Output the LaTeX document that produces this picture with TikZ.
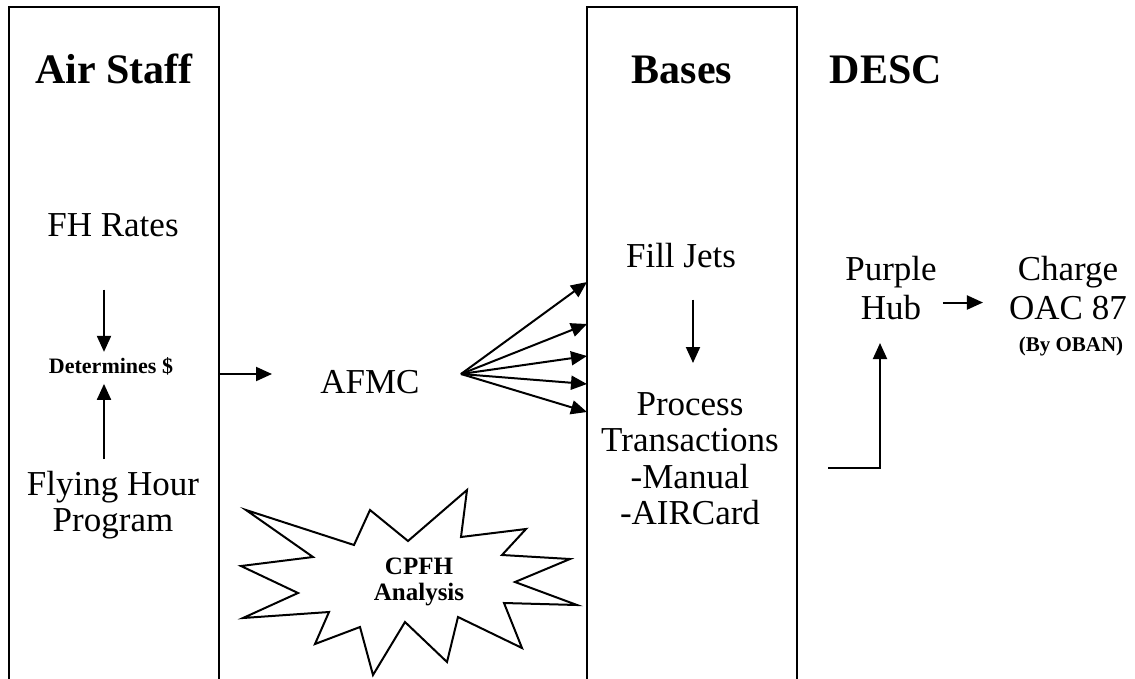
\documentclass[tikz,border=0pt]{standalone}
\usepackage{fontspec}
\setmainfont{Liberation Serif}
\usetikzlibrary{arrows.meta}
\tikzset{
  colbox/.style={draw=black, line width=2pt, outer sep=0pt, minimum width=210pt, minimum height=700pt, anchor=north west},
  head/.style={font=\fontsize{42}{46}\selectfont\bfseries, anchor=base},
  txt/.style={font=\fontsize{35}{36.5}\selectfont, align=center},
  small/.style={font=\fontsize{22}{24}\selectfont\bfseries, anchor=base},
  arr/.style={line width=2pt, -{Triangle[length=16pt,width=14pt]}}
}
\begin{document}
\begin{tikzpicture}[x=1pt,y=-1pt]
\tikzstyle{every node}+=[inner sep=0pt]
\useasboundingbox (0,0) rectangle (1135,678);
% the two columns
\node [colbox] (airbox) at (9,7) {};
\node [colbox] (basebox) at (587,7) {};
\node [head] (air) at (114,83) {Air Staff};
\node [head] (bases) at (682,83) {Bases};
\node [head] (desc) at (886,83) {DESC};
% air staff column
\node [txt, anchor=base] (fh) at (113,236) {FH Rates};
\node [small] (det) at (111,373) {Determines \$};
\node [txt, anchor=north] (fly) at (113,471) {Flying Hour\\Program};
\draw [arr, shorten <=53pt, shorten >=5pt] ([xshift=-9pt]fh.south) -- ([xshift=-9pt]fh.south |- det.north);
\draw [arr, shorten <=12pt, shorten >=9pt] ([xshift=-9pt]fly.north) -- ([xshift=-9pt]fly.north |- det.south);
% afmc
\node [txt, anchor=base] (afmc) at (370,393) {AFMC};
\coordinate (fan) at (461,374);
\draw [arr] (airbox.east |- fan) -- ++(53,0);
\foreach \y in {282,324,356,384,412}
  \draw [arr] (fan) -- (basebox.west |- 0,\y);
% bases column
\node [txt, anchor=base] (fill) at (681,267) {Fill Jets};
\node [txt, anchor=north] (proc) at (690,392) {Process\\Transactions\\-Manual\\-AIRCard};
\draw [arr, shorten <=32pt, shorten >=29pt] ([xshift=12pt]fill.south) -- ([xshift=12pt]fill.south |- proc.north);
% desc
\node [txt, font=\fontsize{35}{39}\selectfont, anchor=north] (hub) at (891,256) {Purple\\Hub};
\node [txt, font=\fontsize{35}{39}\selectfont, anchor=north] (chg) at (1068,256) {Charge\\OAC 87};
\node [small, font=\fontsize{21}{23}\selectfont\bfseries] (oban) at (1071,351) {(By OBAN)};
\draw [arr, shorten <=6pt, shorten >=26pt] ([yshift=-14.5pt]hub.east) -- ([yshift=-14.5pt]hub.east -| chg.west);
\coordinate (out) at (828,468);
\draw [arr, shorten >=23pt] (out) -| ([xshift=-11pt]hub.south);
% cpfh burst
\draw [black, line width=2pt, line join=miter] (246,510) -- (354,545) -- (370,510) -- (408,541) -- (467,490) -- (461,537)
  -- (526,529) -- (502,555) -- (570,559) -- (515,582) -- (577,605) -- (504,603) -- (522,648) -- (458,617)
  -- (447,662) -- (405,622) -- (373,675) -- (360,627) -- (315,644) -- (329,612) -- (243,618) -- (298,593)
  -- (241,566) -- (313,557) -- cycle;
\node [font=\fontsize{25}{26}\selectfont\bfseries, align=center, anchor=north] (cpfh) at (419,558) {CPFH\\Analysis};
\end{tikzpicture}
\end{document}
